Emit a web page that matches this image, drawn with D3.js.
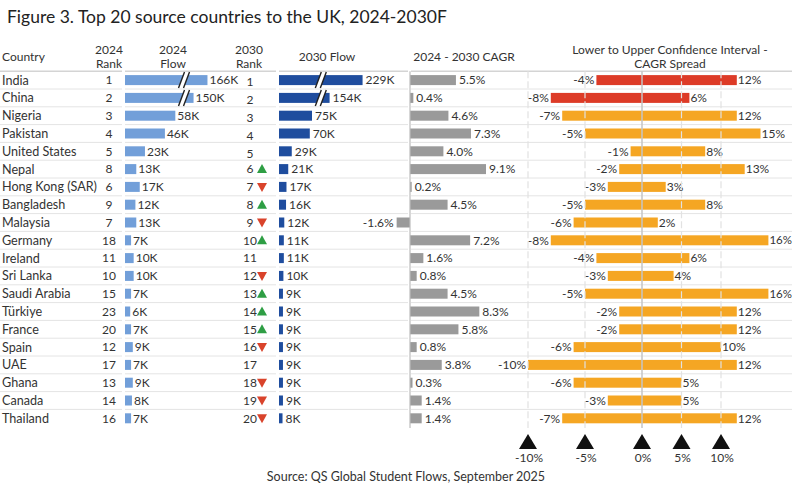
<!DOCTYPE html>
<html>
<head>
<meta charset="utf-8">
<script src="https://cdn.jsdelivr.net/npm/d3@7/dist/d3.min.js"></script>
<style>
  html, body { margin: 0; padding: 0; background: #fff; }
  svg { display: block; font-family: Lato, "Open Sans", sans-serif; }
  text { fill: #333; }
</style>
</head>
<body>
<svg id="chart" width="792" height="486"></svg>
<script>
const countries = ["India","China","Nigeria","Pakistan","United States","Nepal","Hong Kong (SAR)","Bangladesh","Malaysia","Germany","Ireland","Sri Lanka","Saudi Arabia","Türkiye","France","Spain","UAE","Ghana","Canada","Thailand"];
const rank2024 = [1,2,3,4,5,8,6,9,7,18,11,10,15,23,20,12,17,13,14,16];
const flow2024 = [166,150,58,46,23,13,17,12,13,7,10,10,7,6,7,9,7,9,8,7];
const rank2030 = [1,2,3,4,5,6,7,8,9,10,11,12,13,14,15,16,17,18,19,20];
const flow2030 = [229,154,75,70,29,21,17,16,12,11,11,10,9,9,9,9,9,9,9,8];
const cagr = [5.5,0.4,4.6,7.3,4.0,9.1,0.2,4.5,-1.6,7.2,1.6,0.8,4.5,8.3,5.8,0.8,3.8,0.3,1.4,1.4];
const ciLow = [-4,-8,-7,-5,-1,-2,-3,-5,-6,-8,-4,-3,-5,-2,-2,-6,-10,-6,-3,-7];
const ciHigh = [12,6,12,15,8,13,3,8,2,16,6,4,16,12,12,10,12,5,5,12];
const highlighted = ["India","China"];
const ciTicks = [-10,-5,0,5,10];

const svg = d3.select("#chart");

// Title
svg.append("text").attr("x", 7).attr("y", 23)
  .style("font-size", "17.5px").style("fill", "#222")
  .text("Figure 3. Top 20 source countries to the UK, 2024-2030F");

// Row scale
const y = d3.scaleBand().domain(countries).range([71.2, 427.2]).paddingInner(0);
const cy = d => y(d) + y.bandwidth() / 2;
const barH = 10;

// Headers
const hdr = svg.append("g").style("font-size", "12px");
function header(x, lines, anchor) {
  const t = hdr.append("text").attr("x", x).attr("text-anchor", anchor || "middle");
  const y0 = lines.length === 1 ? 61 : 53.5;
  lines.forEach((l, i) => t.append("tspan").attr("x", x).attr("y", y0 + i * 14).text(l));
}
header(2, ["Country"], "start");
header(109, ["2024", "Rank"]);
header(173, ["2024", "Flow"]);
header(249, ["2030", "Rank"]);
header(327, ["2030 Flow"]);
header(464, ["2024 - 2030 CAGR"]);
header(670, ["Lower to Upper Confidence Interval -", "CAGR Spread"]);

// Row separators
const segs = [[0,122],[125,276],[279,408],[411,792]];
const sepG = svg.append("g");
countries.forEach((c, i) => {
  if (i === countries.length - 1) return;
  segs.forEach(s => sepG.append("line")
    .attr("x1", s[0]).attr("x2", s[1])
    .attr("y1", y(c) + y.bandwidth()).attr("y2", y(c) + y.bandwidth())
    .attr("stroke", "#e4e4e4").attr("stroke-width", 1));
});
segs.forEach(s => sepG.append("line")
  .attr("x1", s[0]).attr("x2", s[1]).attr("y1", 71.2).attr("y2", 71.2)
  .attr("stroke", "#d4d4d4").attr("stroke-width", 1.5));

const body = svg.append("g").style("font-size", "12px");

// Country names & 2024 rank
countries.forEach((c, i) => {
  body.append("text").attr("x", 2).attr("y", cy(c)).attr("dy", "0.36em")
    .style("font-size", "12.6px").text(c);
  body.append("text").attr("x", 109).attr("y", cy(c)).attr("dy", "0.36em")
    .attr("text-anchor", "middle").text(rank2024[i]);
});

// Break-axis flow scales
const x24 = d3.scaleLinear().domain([0, 68, 139, 200]).range([125, 184, 184, 237]);
const x30 = d3.scaleLinear().domain([0, 95, 134, 260]).range([279, 320.8, 320.8, 376.2]);

function drawBreak(xb, yc, col) {
  const h = 8, s = 3, gap = 5;
  body.append("path")
    .attr("d", `M${xb - gap/2 - s},${yc + h} L${xb - gap/2 + s},${yc - h} L${xb + gap/2 + s},${yc - h} L${xb + gap/2 - s},${yc + h} Z`)
    .attr("fill", "#fff");
  [-gap/2, gap/2].forEach(o => body.append("line")
    .attr("x1", xb + o - s).attr("y1", yc + h).attr("x2", xb + o + s).attr("y2", yc - h)
    .attr("stroke", col).attr("stroke-width", 1.4));
}

countries.forEach((c, i) => {
  // 2024 flow
  const v = flow2024[i];
  body.append("rect").attr("x", x24(0)).attr("y", cy(c) - barH/2)
    .attr("width", x24(v) - x24(0)).attr("height", barH).attr("fill", "#729fd9");
  if (v > 139) drawBreak(x24(68), cy(c), "#222");
  body.append("text").attr("x", x24(v) + 2).attr("y", cy(c)).attr("dy", "0.36em").text(v + "K");

  // 2030 rank with trend triangle
  body.append("text").attr("x", 250).attr("y", cy(c) + (i < 5 ? 2 : 0)).attr("dy", "0.36em")
    .attr("text-anchor", "middle").text(rank2030[i]);
  if (rank2030[i] !== rank2024[i]) {
    const up = rank2030[i] < rank2024[i];
    const tx = 262, ty = cy(c);
    const p = up ? `M${tx-5},${ty+4} L${tx+5},${ty+4} L${tx},${ty-5} Z`
                 : `M${tx-5},${ty-4} L${tx+5},${ty-4} L${tx},${ty+5} Z`;
    body.append("path").attr("d", p).attr("fill", up ? "#2e9e44" : "#d9432b");
  }

  // 2030 flow
  const w = flow2030[i];
  body.append("rect").attr("x", x30(0)).attr("y", cy(c) - barH/2)
    .attr("width", x30(w) - x30(0)).attr("height", barH).attr("fill", "#1f4d9e");
  if (w > 134) drawBreak(x30(95), cy(c), "#222");
  body.append("text").attr("x", x30(w) + 3).attr("y", cy(c)).attr("dy", "0.36em").text(w + "K");
});

// CAGR column
const xc = d3.scaleLinear().domain([0, 9.1]).range([410, 486]);
countries.forEach((c, i) => {
  const v = cagr[i];
  const x0 = Math.min(xc(0), xc(v)), x1 = Math.max(xc(0), xc(v));
  body.append("rect").attr("x", x0).attr("y", cy(c) - barH/2)
    .attr("width", Math.max(1.5, x1 - x0)).attr("height", barH).attr("fill", "#9a9a9a");
  body.append("text")
    .attr("x", v >= 0 ? Math.max(x1, xc(0) + 1.5) + 3 : x0 - 3)
    .attr("y", cy(c)).attr("dy", "0.36em")
    .attr("text-anchor", v >= 0 ? "start" : "end")
    .text(v.toFixed(1) + "%");
});
svg.append("line").attr("x1", xc(0)).attr("x2", xc(0)).attr("y1", 71.2).attr("y2", 428)
  .attr("stroke", "#bdbdbd").attr("stroke-width", 1.2);

const xs = d3.scaleLinear().domain([-10, 0, 10]).range([528, 642, 721]);
countries.forEach((c, i) => {
  const lo = ciLow[i], hi = ciHigh[i];
  body.append("rect").attr("x", xs(lo)).attr("y", cy(c) - barH/2)
    .attr("width", xs(hi) - xs(lo)).attr("height", barH)
    .attr("fill", highlighted.includes(c) ? "#dd3b27" : "#f5a623");
  body.append("text").attr("x", xs(lo) - 2).attr("y", cy(c)).attr("dy", "0.36em")
    .attr("text-anchor", "end").text(lo + "%");
  body.append("text").attr("x", xs(hi) + 1).attr("y", cy(c)).attr("dy", "0.36em")
    .style("font-size", hi >= 16 ? "11.5px" : null)
    .text(hi + "%");
});
// gridlines on top
const grid = svg.append("g");
ciTicks.forEach(t => {
  grid.append("line").attr("x1", xs(t)).attr("x2", xs(t)).attr("y1", 71.2).attr("y2", 428)
    .attr("stroke", t === 0 ? "#c4c4c4" : "#e2e2e2")
    .attr("stroke-width", t === 0 ? 1.5 : 1.2)
    .attr("stroke-dasharray", t === 0 ? null : "7,3");
});
// bottom tick markers
const axG = svg.append("g").style("font-size", "12px");
ciTicks.forEach(t => {
  const x = xs(t);
  axG.append("path").attr("d", `M${x-9},449 L${x+9},449 L${x},434 Z`).attr("fill", "#111");
  axG.append("text").attr("x", x + 1).attr("y", 457.5).attr("dy", "0.36em")
    .attr("text-anchor", "middle").text(t + "%");
});

// Source
svg.append("text").attr("x", 406).attr("y", 481).attr("text-anchor", "middle")
  .style("font-size", "12.5px").text("Source: QS Global Student Flows, September 2025");
</script>
</body>
</html>
